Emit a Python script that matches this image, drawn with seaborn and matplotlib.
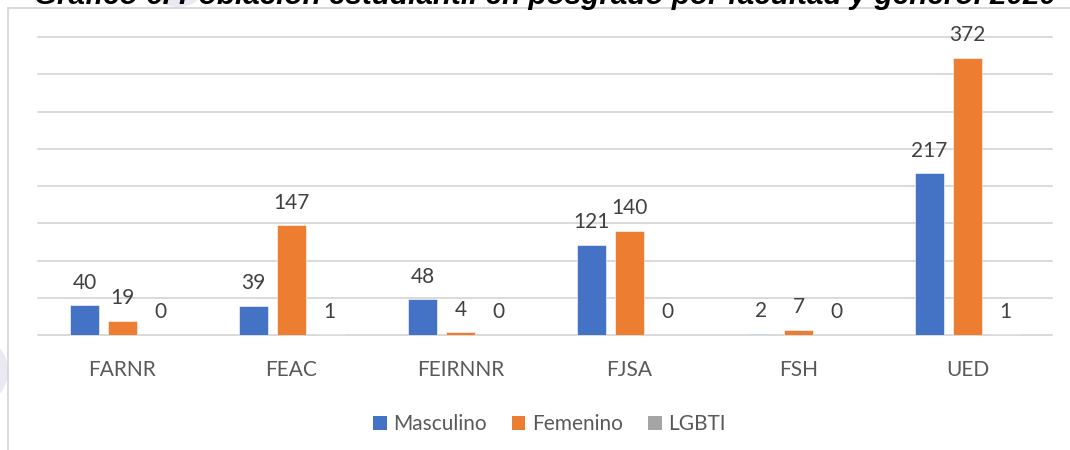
import matplotlib
matplotlib.use("Agg")
import matplotlib.pyplot as plt
import pandas as pd
import seaborn as sns
from matplotlib.patches import Patch, Rectangle, Ellipse

# Data
facultades = ['FARNR', 'FEAC', 'FEIRNNR', 'FJSA', 'FSH', 'UED']
generos = ['Masculino', 'Femenino', 'LGBTI']
masculino = [40, 39, 48, 121, 2, 217]
femenino = [19, 147, 4, 140, 7, 372]
lgbti = [0, 1, 0, 0, 0, 1]
colores = ['#4472C4', '#ED7D31', '#A5A5A5']
titulo = 'Gráfico 6. Población estudiantil en posgrado por facultad y género. 2020'

df = pd.DataFrame({
    'Facultad': facultades * 3,
    'Género': [g for g in generos for _ in facultades],
    'Población': masculino + femenino + lgbti,
})

sns.set_style('white')
plt.rcParams['font.family'] = ['Lato', 'DejaVu Sans']

W, H = 1070, 450
fig = plt.figure(figsize=(W / 100, H / 100), dpi=100)
ax = fig.add_axes([38 / W, 1 - 335 / H, 1014 / W, 298 / H])

sns.barplot(data=df, x='Facultad', y='Población', hue='Género', palette=colores,
            width=0.673, gap=0.235, saturation=1, legend=False, ax=ax,
            edgecolor='white', linewidth=0.4)

ax.set_ylim(0, 400)
ax.set_xlim(-0.5, 5.5)
ax.set_yticks(range(0, 401, 50))
ax.yaxis.grid(True, color='#D9D9D9', linewidth=1.4)
for ln in ax.get_ygridlines():
    ln.set_clip_on(False)
ax.set_axisbelow(True)
ax.set_yticklabels([])
ax.set_xlabel('')
ax.set_ylabel('')
ax.tick_params(axis='both', length=0)
ax.tick_params(axis='x', pad=18, labelsize=15, labelcolor='#595959')
for s in ax.spines.values():
    s.set_visible(False)

# Data labels
for cont, vals in zip(ax.containers, [masculino, femenino, lgbti]):
    ax.bar_label(cont, labels=[str(v) for v in vals], padding=9,
                 fontsize=15, color='#404040')

# Legend
handles = [Patch(facecolor=c, edgecolor='none') for c in colores]
fig.legend(handles, generos, loc='center', bbox_to_anchor=(549 / W, 1 - 424 / H),
           ncol=3, frameon=False, fontsize=15, handlelength=0.67, handleheight=0.67,
           handletextpad=0.3, columnspacing=1.2, labelcolor='#595959')

# Background decorations and frame
fig.add_artist(Ellipse((-12 / W, 1 - 371 / H), 40 / W, 56 / H, transform=fig.transFigure,
                       facecolor='#E9E9F4', edgecolor='none', zorder=0))
fig.add_artist(Ellipse((178 / W, 1 + 8 / H), 46 / W, 30 / H, transform=fig.transFigure,
                       facecolor='#E9E9F4', edgecolor='none', zorder=0))
fig.add_artist(Rectangle((8 / W, -0.1), 1.2, 1 - 8 / H + 0.1, transform=fig.transFigure,
                         fill=False, edgecolor='#D9D9D9', linewidth=1.4))

# Title, cut at the top like the source
t = fig.text(34 / W, 1 - 4.5 / H, titulo, ha='left', va='baseline', fontsize=20,
             fontweight='bold', fontstyle='italic', family=['Liberation Sans', 'DejaVu Sans'],
             color='black')
r = fig.canvas.get_renderer()
w = t.get_window_extent(renderer=r).width
t.set_fontsize(20 * 1022 / w)

fig.savefig('out.png', dpi=100)
